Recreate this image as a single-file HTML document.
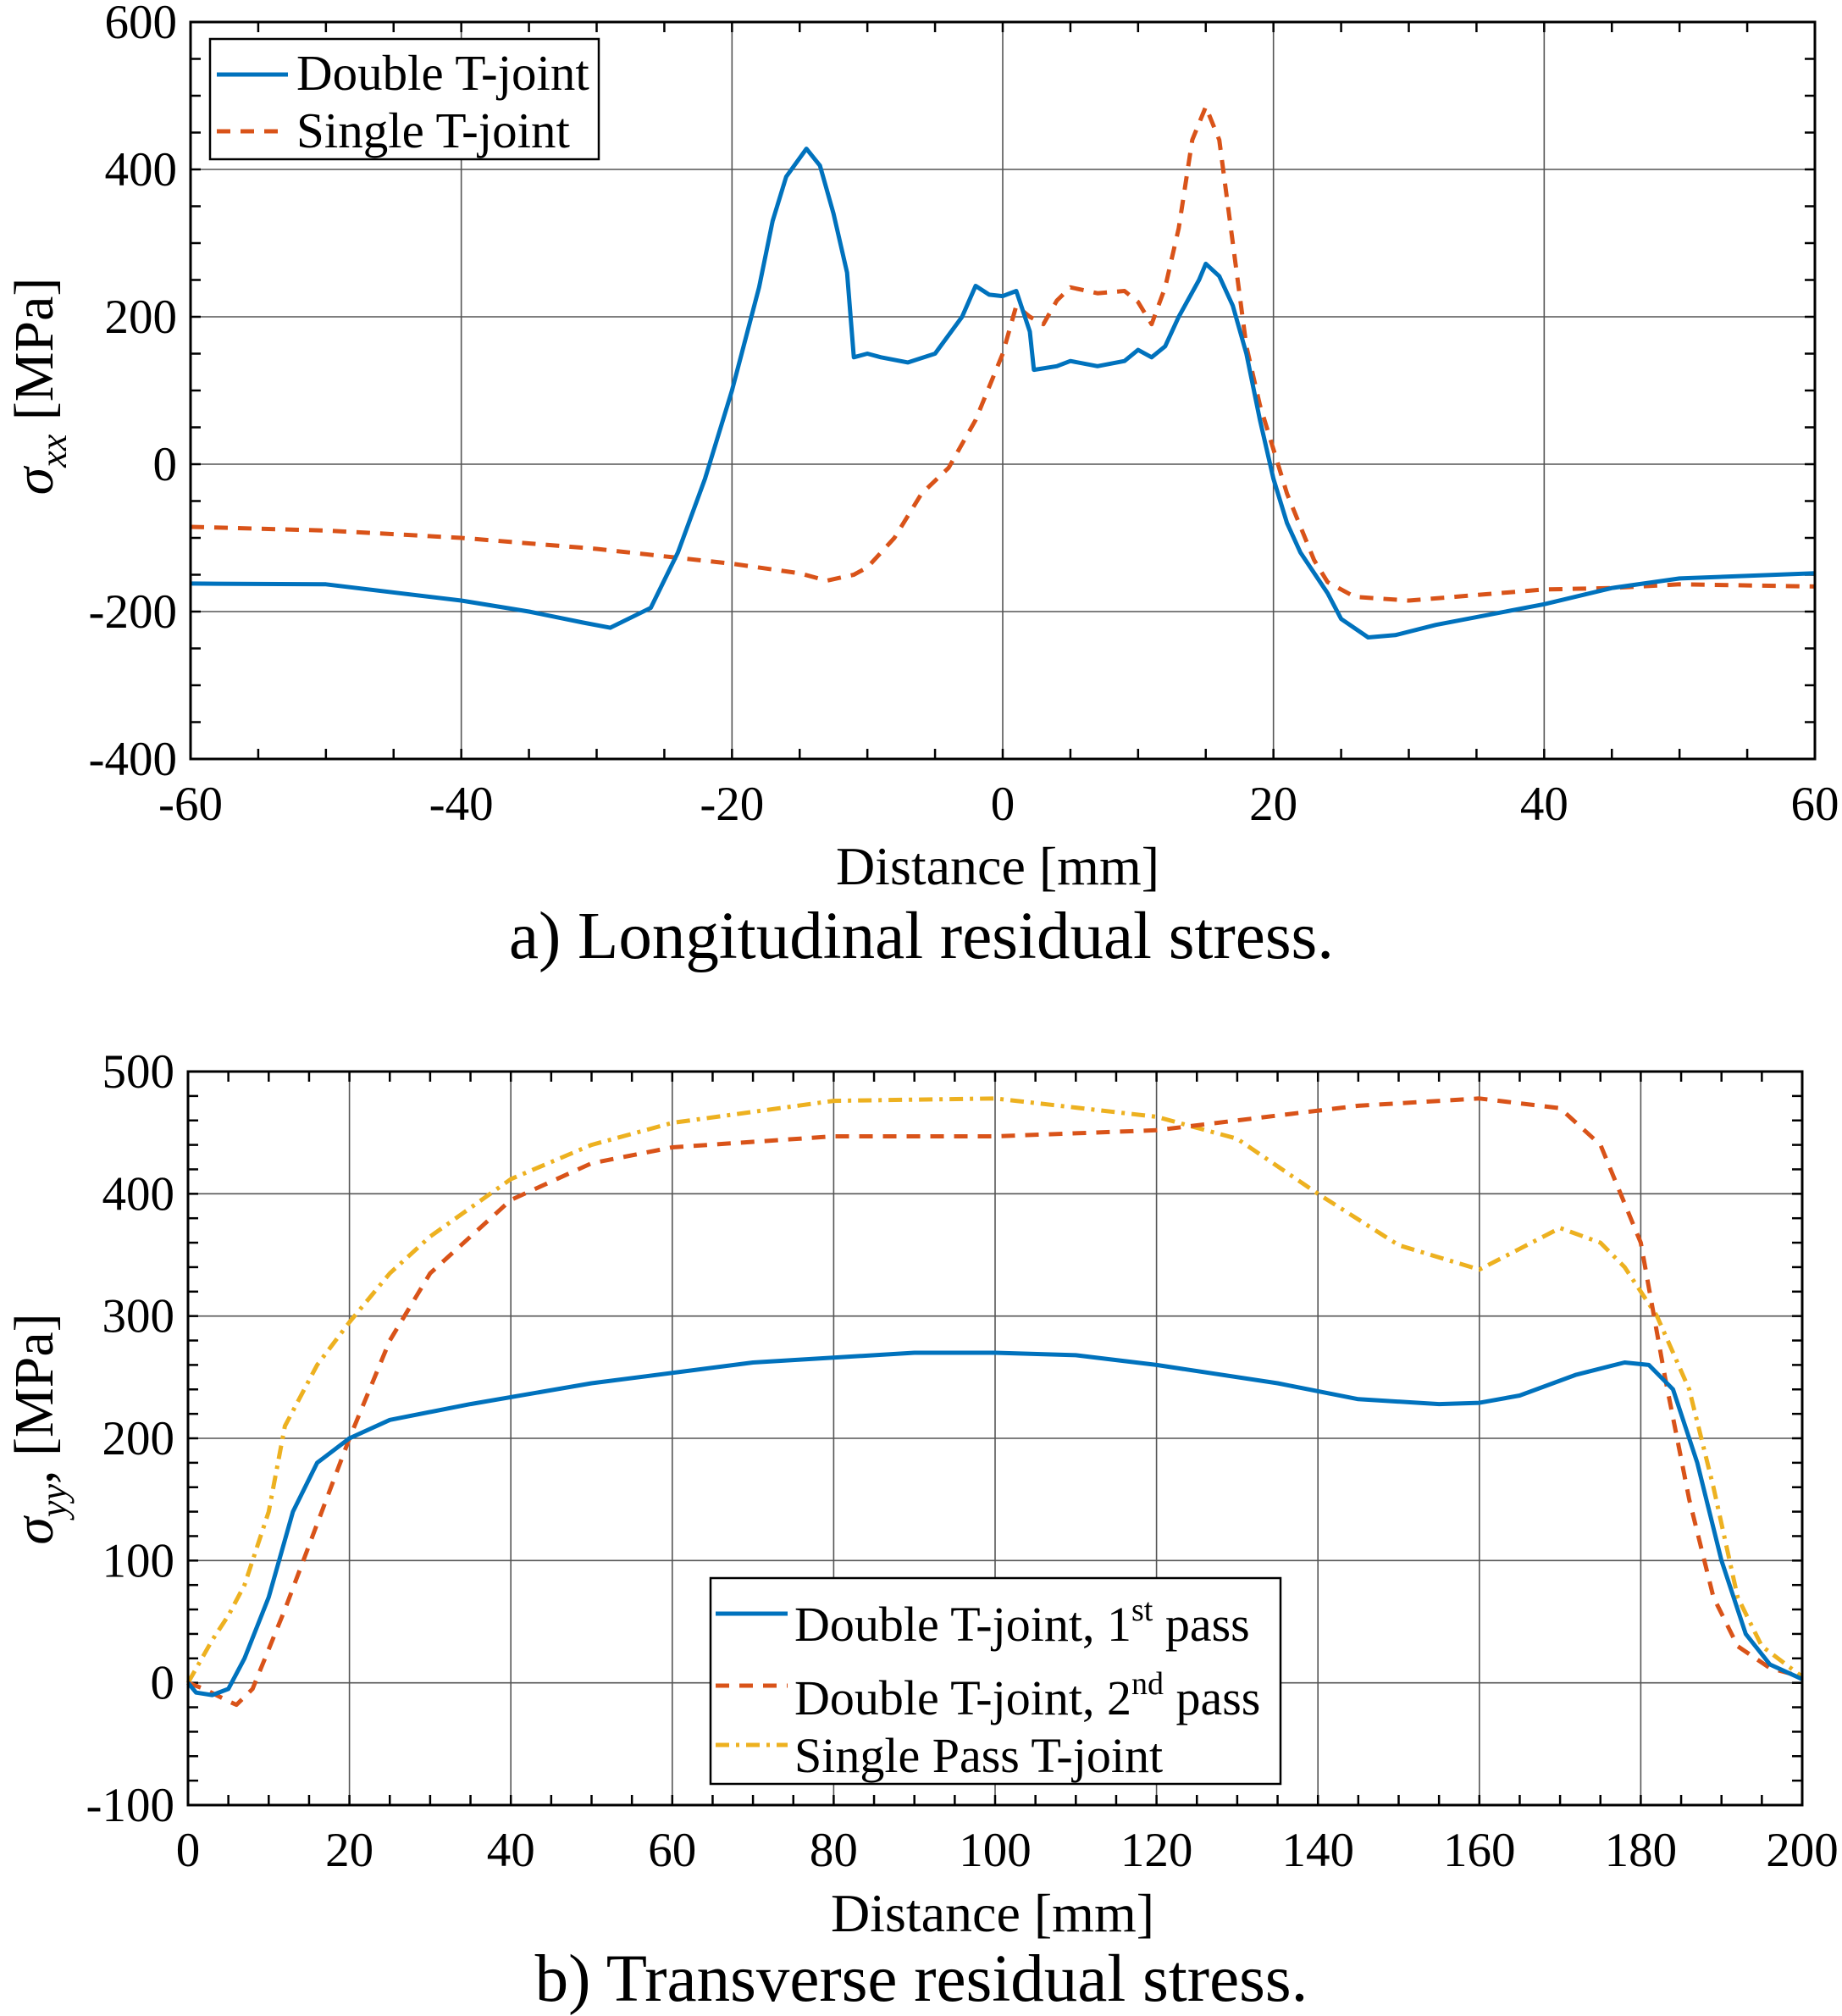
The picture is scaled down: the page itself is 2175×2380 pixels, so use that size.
<!DOCTYPE html>
<html><head><meta charset="utf-8">
<style>
html,body{margin:0;padding:0;background:#fff;}
svg{display:block;font-family:"Liberation Serif",serif;}
</style></head>
<body>
<svg id="fig" width="2175" height="2380" viewBox="0 0 2175 2380" xmlns="http://www.w3.org/2000/svg"></svg>
<script>
// ---------- Chart A data ----------
const aDoubleX=[-60,-50,-40,-35,-31,-29,-26,-24,-22,-20,-18,-17,-16,-14.5,-13.5,-12.5,-11.5,-11,-10,-9,-7,-5,-3,-2,-1,0,1,2,2.3,4,5,7,9,10,11,12,13,14.5,15,16,17,18,19,20,21,22,24,25,27,29,32,40,45,50,60];
const aDoubleY=[-162,-163,-185,-200,-215,-222,-195,-120,-20,100,240,330,390,428,405,340,260,145,150,145,138,150,200,242,230,228,235,180,128,133,140,133,140,155,145,160,200,250,272,255,215,150,60,-20,-80,-120,-175,-210,-235,-232,-218,-190,-168,-155,-148];
const aSingleX=[-60,-50,-40,-30,-20,-15,-13,-11,-10,-8,-6,-4,-2,0,1,2,3,4,5,7,9,10,11,12,13,14,15,16,17,18,19,20,21,23,24,26,30,40,45,50,60];
const aSingleY=[-85,-90,-100,-115,-135,-148,-158,-150,-140,-100,-40,-5,60,150,215,200,190,222,240,232,235,220,190,240,320,440,485,440,300,160,80,20,-40,-130,-160,-180,-185,-170,-168,-163,-166];
const aXTicks=[-60,-40,-20,0,20,40,60];
const aYTicks=[-400,-200,0,200,400,600];
// ---------- Chart B data ----------
const bPass1X=[0,1,3,5,7,10,13,16,20,25,35,50,70,90,100,110,120,135,145,155,160,165,172,178,181,184,187,190,193,196,200];
const bPass1Y=[0,-8,-10,-5,20,70,140,180,200,215,228,245,262,270,270,268,260,245,232,228,229,235,252,262,260,240,180,100,40,15,3];
const bPass2X=[0,2,5,6,8,12,16,20,25,30,40,50,60,80,100,120,130,145,160,170,175,180,183,186,189,192,196,200];
const bPass2Y=[0,-5,-15,-18,-5,60,130,200,280,335,395,425,438,447,447,452,460,472,478,470,440,360,250,150,70,30,12,5];
const bSingleX=[0,3,5,7,10,12,16,20,25,30,40,50,60,80,100,120,130,140,150,160,165,170,175,178,182,186,189,192,195,200];
const bSingleY=[0,35,55,80,140,210,260,295,335,365,412,440,458,476,478,463,445,400,358,338,355,372,360,340,300,240,160,70,30,5];
const bXTicks=[0,20,40,60,80,100,120,140,160,180,200];
const bYTicks=[-100,0,100,200,300,400,500];

const NS="http://www.w3.org/2000/svg";
const svg=document.getElementById('fig');
function mk(tag,attrs,parent){const e=document.createElementNS(NS,tag);for(const k in attrs)e.setAttribute(k,attrs[k]);(parent||svg).appendChild(e);return e;}

function chart(o){
  const g=mk('g',{});
  
  
  const sx=v=>o.L+(v-o.x0)/(o.x1-o.x0)*(o.R-o.L);
  const sy=v=>o.B-(v-o.y0)/(o.y1-o.y0)*(o.B-o.T);
  o.xt.forEach(v=>{const l=mk('line',{x1:sx(v),x2:sx(v),y1:o.T,y2:o.B,stroke:'#555','stroke-width':1.6},g);});
  o.yt.forEach(v=>{const l=mk('line',{x1:o.L,x2:o.R,y1:sy(v),y2:sy(v),stroke:'#555','stroke-width':1.6},g);});
  for(let v=o.x0;v<=o.x1+1e-9;v+=o.xm){mk('line',{x1:sx(v),x2:sx(v),y1:o.B,y2:o.B-12,stroke:'#000','stroke-width':2.5},g);mk('line',{x1:sx(v),x2:sx(v),y1:o.T,y2:o.T+12,stroke:'#000','stroke-width':2.5},g);}
  for(let v=o.y0;v<=o.y1+1e-9;v+=o.ym){mk('line',{x1:o.L,x2:o.L+12,y1:sy(v),y2:sy(v),stroke:'#000','stroke-width':2.5},g);mk('line',{x1:o.R,x2:o.R-12,y1:sy(v),y2:sy(v),stroke:'#000','stroke-width':2.5},g);}
  o.series.forEach(s=>{
    const d=s.x.map((v,i)=>(i?'L':'M')+sx(v).toFixed(1)+','+sy(s.y[i]).toFixed(1)).join(' ');
    const p=mk('path',{d:d,fill:'none',stroke:s.c,'stroke-width':5,'stroke-dasharray':s.dash||'','stroke-linejoin':'round'},g);
    
    
  });
  const f=mk('rect',{x:o.L,y:o.T,width:o.R-o.L,height:o.B-o.T,fill:'none',stroke:'#000','stroke-width':3},g);
  
  o.xt.forEach(v=>{const t=mk('text',{x:sx(v),y:o.B+72,'font-size':57,'text-anchor':'middle'},g);t.textContent=v;});
  o.yt.forEach(v=>{const t=mk('text',{x:o.L-16,y:sy(v)+19,'font-size':57,'text-anchor':'end'},g);t.textContent=v;});
  return {sx,sy};
}

chart({name:'chart-longitudinal',L:225,R:2143,T:26,B:896,x0:-60,x1:60,y0:-400,y1:600,xm:5,ym:50,xt:aXTicks,yt:aYTicks,
  series:[{name:'series-single-t-joint',x:aSingleX,y:aSingleY,c:'#D95319',dash:'16,12'},{name:'series-double-t-joint',x:aDoubleX,y:aDoubleY,c:'#0072BD'}]});
chart({name:'chart-transverse',L:222,R:2128,T:1265,B:2131,x0:0,x1:200,y0:-100,y1:500,xm:5,ym:20,xt:bXTicks,yt:bYTicks,
  series:[{name:'series-single-pass',x:bSingleX,y:bSingleY,c:'#EDB120',dash:'16,8,4,8'},{name:'series-2nd-pass',x:bPass2X,y:bPass2Y,c:'#D95319',dash:'16,12'},{name:'series-1st-pass',x:bPass1X,y:bPass1Y,c:'#0072BD'}]});
</script>
<svg style="position:absolute;left:0;top:0" width="2175" height="2380" xmlns="http://www.w3.org/2000/svg">
  <g font-family="Liberation Serif, serif" fill="#000">
    <g>
      <rect x="248" y="46" width="459" height="142" fill="#fff" stroke="#000" stroke-width="2.5"/>
      <line x1="256" y1="88" x2="340" y2="88" stroke="#0072BD" stroke-width="5"/>
      <text x="350" y="106" font-size="59">Double T-joint</text>
      <line x1="256" y1="155" x2="340" y2="155" stroke="#D95319" stroke-width="5" stroke-dasharray="16,12"/>
      <text x="350" y="174" font-size="59">Single T-joint</text>
    </g>
    <text transform="translate(62,456) rotate(-90)" font-size="66" text-anchor="middle"><tspan font-style="italic">σ</tspan><tspan font-style="italic" font-size="44" dy="16">xx</tspan><tspan dy="-16"> [MPa]</tspan></text>
    <text x="1178" y="1044" font-size="64" text-anchor="middle">Distance [mm]</text>
    <text x="1088" y="1131" font-size="79" text-anchor="middle">a) Longitudinal residual stress.</text>

    <g>
      <rect x="839" y="1863" width="673" height="243" fill="#fff" stroke="#000" stroke-width="2.5"/>
      <line x1="845" y1="1905" x2="930" y2="1905" stroke="#0072BD" stroke-width="5"/>
      <text x="938" y="1937" font-size="58">Double T-joint, 1<tspan font-size="38" dy="-24">st</tspan><tspan dy="24"> pass</tspan></text>
      <line x1="845" y1="1990" x2="930" y2="1990" stroke="#D95319" stroke-width="5" stroke-dasharray="16,12"/>
      <text x="938" y="2024" font-size="58">Double T-joint, 2<tspan font-size="38" dy="-24">nd</tspan><tspan dy="24"> pass</tspan></text>
      <line x1="845" y1="2060" x2="930" y2="2060" stroke="#EDB120" stroke-width="5" stroke-dasharray="16,8,4,8"/>
      <text x="938" y="2092" font-size="58">Single Pass T-joint</text>
    </g>
    <text transform="translate(62,1687) rotate(-90)" font-size="66" text-anchor="middle"><tspan font-style="italic">σ</tspan><tspan font-style="italic" font-size="44" dy="16">yy</tspan><tspan dy="-16">, [MPa]</tspan></text>
    <text x="1172" y="2280" font-size="64" text-anchor="middle">Distance [mm]</text>
    <text x="1088" y="2362" font-size="79" text-anchor="middle">b) Transverse residual stress.</text>
  </g>
</svg>
</body></html>
